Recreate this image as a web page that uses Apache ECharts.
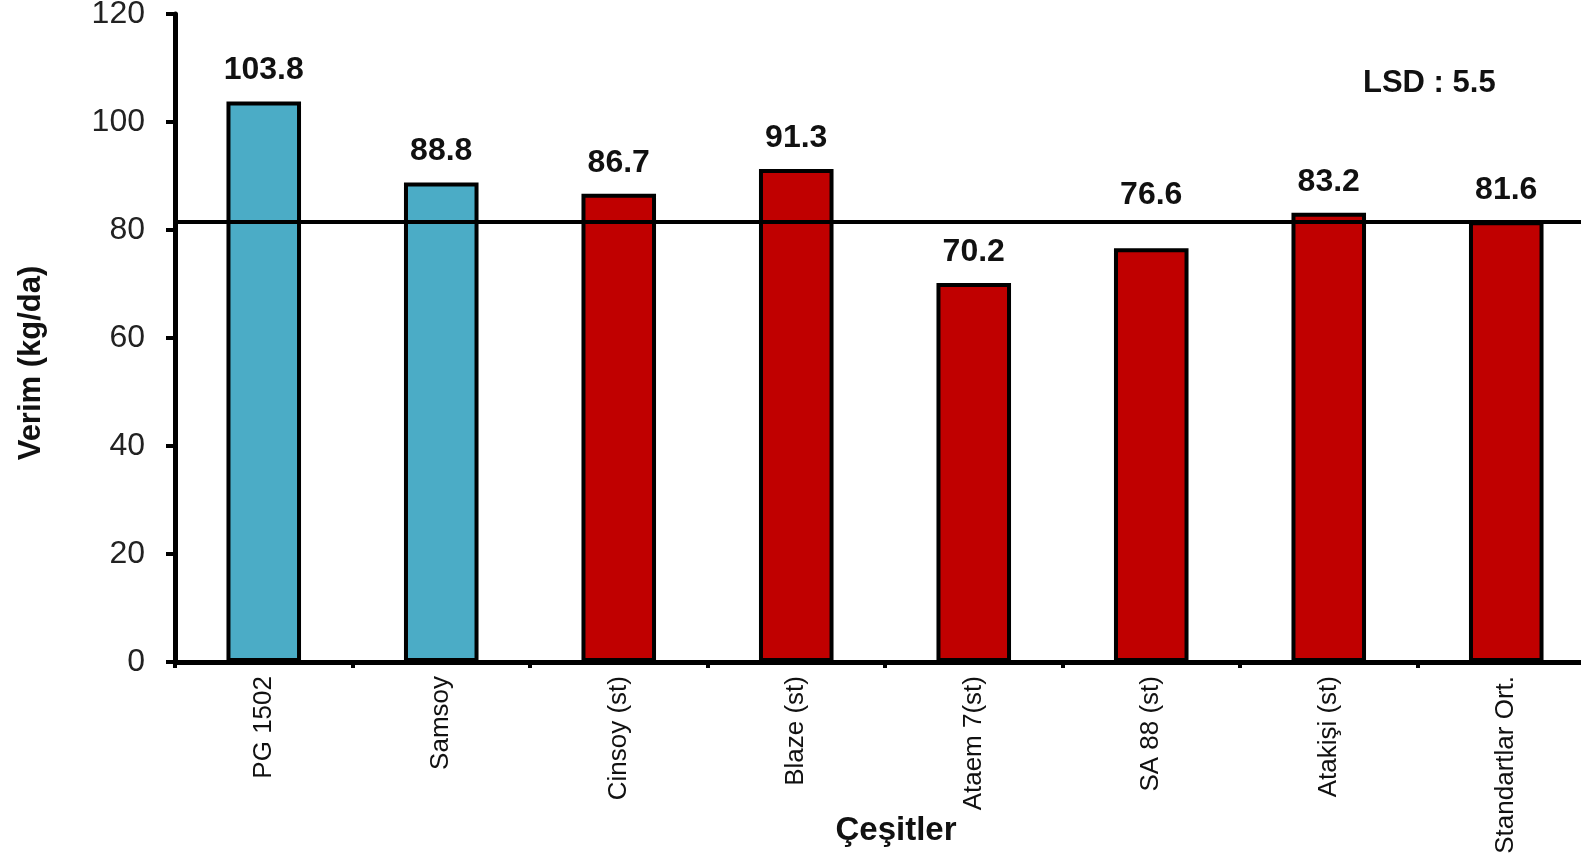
<!DOCTYPE html>
<html>
<head>
<meta charset="utf-8">
<script src="https://cdn.jsdelivr.net/npm/echarts@6/dist/echarts.min.js"></script>
<style>html,body{margin:0;padding:0;background:#fff}#c{width:1581px;height:866px}</style>
</head>
<body>
<div id="c"></div>
<script>
const categories = ['PG 1502', 'Samsoy', 'Cinsoy (st)', 'Blaze (st)', 'Ataem 7(st)', 'SA 88 (st)', 'Atakişi (st)', 'Standartlar Ort.'];
const values = [103.8, 88.8, 86.7, 91.3, 70.2, 76.6, 83.2, 81.6];
const barColors = ['#4BACC6', '#4BACC6', '#C00000', '#C00000', '#C00000', '#C00000', '#C00000', '#C00000'];
const meanLine = 81.6;
const lsdText = 'LSD : 5.5';

const FF = 'Liberation Sans, Arial, sans-serif';
// label lifted above the mean line for the bar whose top sits just under it
const liftedLabel = { 'SA 88 (st)': 37 };

const chart = echarts.init(document.getElementById('c'));
chart.setOption({
  animation: false,
  textStyle: { fontFamily: FF },
  title: {
    text: lsdText, left: 1358, top: 63,
    textStyle: { fontSize: 31, fontWeight: 'bold', color: '#111', fontFamily: FF }
  },
  grid: { left: 175, right: -14, top: 14, bottom: 204, containLabel: false, outerBoundsMode: 'none' },
  xAxis: {
    type: 'category', data: categories,
    name: 'Çeşitler', nameLocation: 'middle', nameGap: 152, nameMoveOverlap: false,
    nameTextStyle: { fontSize: 33, fontWeight: 'bold', color: '#111', padding: [0, 0, 0, 22] },
    axisLine: { lineStyle: { color: '#000', width: 5 } },
    axisTick: { show: true, length: 6, lineStyle: { width: 4, color: '#000' } },
    axisLabel: { rotate: 90, fontSize: 26, color: '#111', margin: 14 }
  },
  yAxis: {
    type: 'value', min: 0, max: 120, interval: 20,
    name: 'Verim (kg/da)', nameLocation: 'middle', nameGap: 128, nameMoveOverlap: false,
    nameTextStyle: { fontSize: 31, fontWeight: 'bold', color: '#111', padding: [0, 50, 0, 0] },
    axisLine: { show: true, lineStyle: { color: '#000', width: 5 } },
    axisTick: { show: true, length: 9, lineStyle: { width: 4, color: '#000' } },
    axisLabel: { fontSize: 32, color: '#222', margin: 30 },
    splitLine: { show: false }
  },
  series: [{
    type: 'bar',
    data: values.map((v, i) => {
      const d = { value: v, itemStyle: { color: barColors[i] } };
      if (liftedLabel[categories[i]]) d.label = { distance: liftedLabel[categories[i]] };
      return d;
    }),
    barWidth: '42%',
    itemStyle: { borderColor: '#000', borderWidth: 4 },
    label: {
      show: true, position: 'top', distance: 15,
      fontSize: 32, fontWeight: 'bold', color: '#111',
      formatter: p => p.value.toFixed(1)
    },
    markLine: {
      symbol: 'none', silent: true,
      label: { show: false },
      lineStyle: { color: '#000', width: 4, type: 'solid' },
      data: [{ yAxis: meanLine }]
    }
  }]
});
</script>
</body>
</html>
